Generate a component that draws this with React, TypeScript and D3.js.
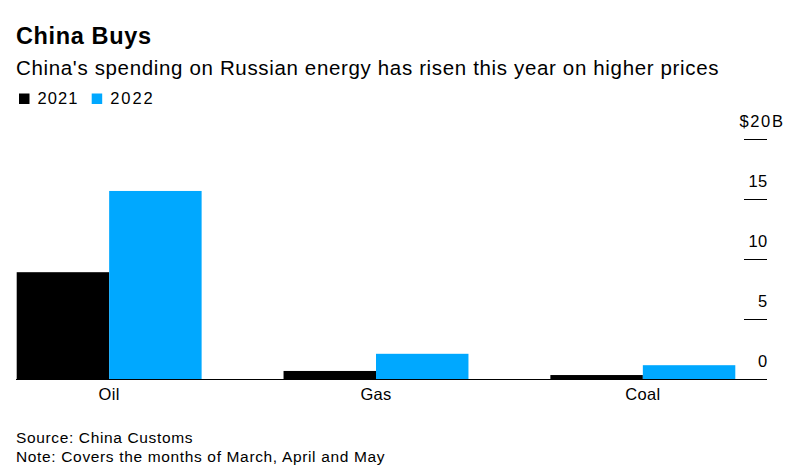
import React from "react";
import * as d3 from "d3";

const categories = ["Oil", "Gas", "Coal"];
const seriesNames = ["2021", "2022"];
const values2021 = [8.9, 0.67, 0.33];
const values2022 = [15.67, 2.1, 1.15];
const yTicks = [0, 5, 10, 15, 20];
const colors = ["#000000", "#00a8ff"];

const W = 805;
const H = 470;
const FONT = "'Liberation Sans', Arial, Helvetica, sans-serif";

export default function App() {
  const baseY = 379;
  const y = d3.scaleLinear().domain([0, 20]).range([baseY, 139]);
  const x0 = d3
    .scaleBand<string>()
    .domain(categories)
    .range([16.7, 735.3])
    .paddingInner(0.307)
    .paddingOuter(0);
  const x1 = d3
    .scaleBand<string>()
    .domain(seriesNames)
    .range([0, x0.bandwidth()])
    .padding(0);
  const series = [values2021, values2022];
  const legendX = [19, 91.7];
  const legendLen = [40, 42.5];

  return (
    <svg
      width={W}
      height={H}
      style={{ position: "absolute", left: 0, top: 0, background: "#fff" }}
      fontFamily={FONT}
    >
      <rect x={0} y={0} width={W} height={H} fill="#fff" />
      <text x={16} y={43.5} fontSize={23.5} fontWeight="bold" fill="#000" textLength={135} lengthAdjust="spacing">
        China Buys
      </text>
      <text x={16} y={74.5} fontSize={20.5} fill="#000" textLength={702.5} lengthAdjust="spacing">
        China's spending on Russian energy has risen this year on higher prices
      </text>
      {seriesNames.map((s, i) => {
        const lx = legendX[i];
        return (
          <g key={s}>
            <rect x={lx} y={93.5} width={10.5} height={10.5} fill={colors[i]} />
            <text x={lx + 18.5} y={104.3} fontSize={16.5} fill="#000" textLength={legendLen[i]} lengthAdjust="spacing">
              {s}
            </text>
          </g>
        );
      })}
      {yTicks.map((t) => (
        <g key={t}>
          {t !== 0 && (
            <line x1={744} x2={767} y1={y(t) + 0.5} y2={y(t) + 0.5} stroke="#000" strokeWidth={1} />
          )}
          <text
            x={t === 20 ? 784.5 : 767.5}
            y={y(t) - 12}
            fontSize={16.5}
            textAnchor="end"
            fill="#000"
            letterSpacing={t === 20 ? 1.6 : 0.3}
          >
            {t === 20 ? "$20B" : String(t)}
          </text>
        </g>
      ))}
      {categories.map((c, ci) => (
        <g key={c} transform={`translate(${x0(c)},0)`}>
          {series.map((vals, si) => (
            <rect
              key={si}
              x={x1(seriesNames[si])}
              y={y(vals[ci])}
              width={x1.bandwidth()}
              height={baseY - y(vals[ci])}
              fill={colors[si]}
            />
          ))}
          <text
            x={x0.bandwidth() / 2}
            y={400}
            fontSize={16.5}
            textAnchor="middle"
            fill="#000"
            letterSpacing={0.3}
          >
            {c}
          </text>
        </g>
      ))}
      <line x1={16} x2={767} y1={baseY + 0.5} y2={baseY + 0.5} stroke="#000" strokeWidth={1} />
      <text x={16} y={442.7} fontSize={15.5} fill="#000" textLength={176.5} lengthAdjust="spacing">
        Source: China Customs
      </text>
      <text x={16} y={461.5} fontSize={15.5} fill="#000" textLength={368.5} lengthAdjust="spacing">
        Note: Covers the months of March, April and May
      </text>
    </svg>
  );
}
